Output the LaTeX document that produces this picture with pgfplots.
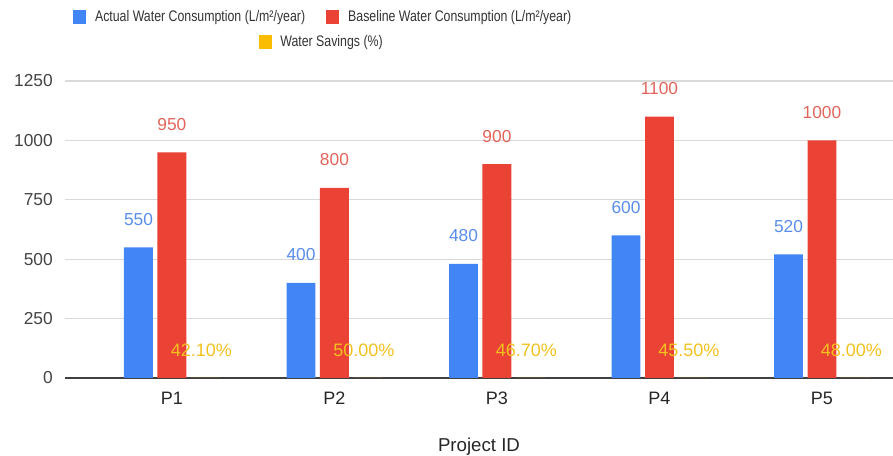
\documentclass[border=0pt]{standalone}
\usepackage{pgfplots}
\pgfplotsset{compat=1.18}
\usepackage{fontspec}
\setmainfont{Liberation Sans}
\newfontfamily\legendfont[FakeStretch=0.805]{Liberation Sans}

\definecolor{gblue}{HTML}{4285F4}
\definecolor{gred}{HTML}{EA4335}
\definecolor{gyellow}{HTML}{FBBC04}
\definecolor{lblue}{HTML}{5A8DEB}
\definecolor{lred}{HTML}{E2645B}
\definecolor{lyellow}{HTML}{F2C11E}
\definecolor{gridgray}{HTML}{D9D9D9}
\definecolor{ticktext}{HTML}{444444}

% values per project
\pgfplotstableread{
x actual baseline saving pct
1 550 950 0.421 42.10
2 400 800 0.500 50.00
3 480 900 0.467 46.70
4 600 1100 0.455 45.50
5 520 1000 0.480 48.00
}\water

\pgfplotsset{
  /pgf/number format/.cd, 1000 sep={}, assume math mode=true,
  /pgfplots/.cd,
  sq/.style={legend image code/.code={\fill[##1] (0pt,-5.5pt) rectangle (10pt,5.5pt);}},
}

\begin{document}
\begin{tikzpicture}
\path[use as bounding box] (-48.75pt,-58.5pt) rectangle (621pt,283.5pt);
\begin{axis}[
  scale only axis, width=621pt, height=222.75pt,
  xmin=0.342, xmax=5.437, ymin=0, ymax=1250,
  ybar=3.4pt, bar width=21.7pt,
  xtick={1,2,3,4,5}, xticklabels={P1,P2,P3,P4,P5},
  ytick={0,250,500,750,1000,1250},
  axis x line*=bottom, axis y line*=left,
  y axis line style={draw=none},
  x axis line style={draw=black!75, line width=1.1pt, -},
  major tick length=0pt,
  ymajorgrids, grid style={gridgray, line width=0.9pt},
  yticklabel style={font=\fontsize{13}{15}\selectfont, text=ticktext, anchor=east, inner sep=0pt, xshift=-9pt},
  xticklabel style={font=\fontsize{13.5}{15}\selectfont, text=black!85, anchor=center, yshift=-15pt},
  xlabel={Project ID},
  x label style={at={(axis description cs:0.5,0)}, anchor=center, yshift=-51.75pt, font=\fontsize{14}{16}\selectfont, text=black!85},
  legend style={draw=none, fill=none, inner sep=0pt, outer sep=0pt,
    legend columns=2, font=\legendfont\fontsize{11.5}{13}\selectfont, text=black!80,
    nodes={inner sep=0pt},
    /tikz/every odd column/.append style={column sep=6.5pt},
    /tikz/every even column/.append style={column sep=15.75pt},
    at={(axis description cs:0.0097,1.2155)}, anchor=west},
  legend cell align=left,
  every node near coord/.append style={font=\fontsize{13}{15}\selectfont, anchor=center, yshift=21pt},
]
\addplot[sq, fill=gblue, draw=none,
  nodes near coords, every node near coord/.append style={text=lblue}]
  table[x=x, y=actual] {\water};
\addlegendentry{Actual Water Consumption (L/m²/year)}
\addplot[sq, fill=gred, draw=none,
  nodes near coords, every node near coord/.append style={text=lred}]
  table[x=x, y=baseline] {\water};
\addlegendentry{Baseline Water Consumption (L/m²/year)}
\addplot[fill=gyellow, draw=none,
  point meta=explicit,
  nodes near coords={\pgfmathprintnumber[fixed, fixed zerofill, precision=2]{\pgfplotspointmeta}\%},
  every node near coord/.append style={text=lyellow, font=\fontsize{13.5}{15}\selectfont, xshift=-3pt}]
  table[x=x, y=saving, meta=pct] {\water};
\end{axis}
\begin{axis}[
  scale only axis, width=621pt, height=222.75pt,
  hide axis, xmin=0, xmax=1, ymin=0, ymax=1,
  legend style={draw=none, fill=none, inner sep=0pt, outer sep=0pt,
    font=\legendfont\fontsize{11.5}{13}\selectfont, text=black!80,
    nodes={inner sep=0pt},
    /tikz/every odd column/.append style={column sep=6pt},
    at={(axis description cs:0.2343,1.1313)}, anchor=west},
]
\addlegendimage{sq, fill=gyellow, draw=none}
\addlegendentry{Water Savings (\%)}
\end{axis}
\end{tikzpicture}
\end{document}
